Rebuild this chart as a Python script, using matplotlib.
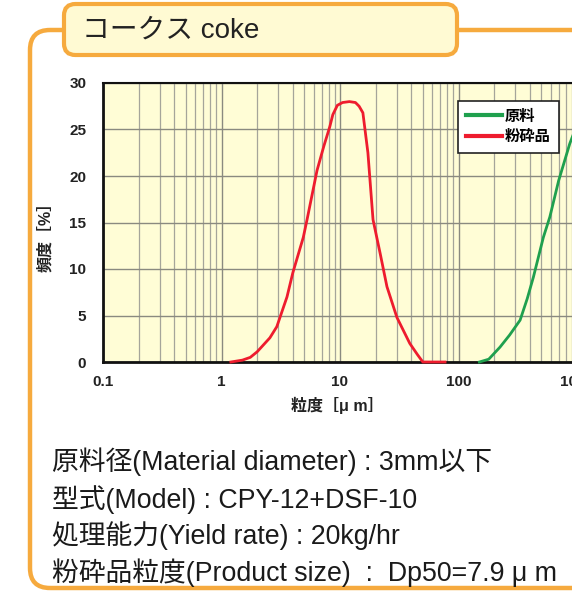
import matplotlib
matplotlib.use("Agg")
import matplotlib.pyplot as plt
from matplotlib.patches import FancyBboxPatch
from matplotlib.ticker import LogLocator, FixedLocator, NullFormatter

FAM = ['Liberation Sans', 'Noto Sans CJK JP', 'DejaVu Sans']
plt.rcParams['font.family'] = FAM

# ---- data ----
title_text = "コークス coke"
series_names = ["原料", "粉砕品"]
raw_x = [150, 180, 224, 270, 331, 380, 428, 520, 590, 700, 870, 1000]
raw_y = [0.0, 0.3, 1.6, 2.9, 4.5, 6.8, 9.1, 13.4, 15.6, 19.5, 23.5, 25.5]
prod_x = [1.2, 1.5, 1.75, 2.0, 2.56, 2.93, 3.57, 4.0, 4.9, 5.27, 6.4, 7.3, 8.2, 8.7,
          9.5, 10.5, 12.0, 13.5, 14.5, 15.6, 17.2, 19.0, 21.8, 24.9, 30.2, 38.8, 45, 50, 60, 77]
prod_y = [0.0, 0.2, 0.5, 1.1, 2.6, 3.8, 7.0, 9.6, 13.4, 15.3, 20.6, 23.2, 25.3, 26.6,
          27.6, 27.9, 28.0, 27.9, 27.5, 26.8, 22.5, 15.3, 11.7, 8.1, 4.8, 2.0, 0.8, 0.0, 0.0, 0.0]
x_ticks = [0.1, 1, 10, 100, 1000]
x_ticklabels = ["0.1", "1", "10", "100", "1000"]
y_ticks = [0, 5, 10, 15, 20, 25, 30]
x_label = "粒度\uff3b\u03bc m\uff3d"
y_label = "頻度\uff3b%\uff3d"
info_lines = [
    "原料径(Material diameter) : 3mm以下",
    "型式(Model) : CPY-12+DSF-10",
    "処理能力(Yield rate) : 20kg/hr",
    "粉砕品粒度(Product size)  :  Dp50=7.9 \u03bc m",
]

W, H = 572, 595
fig = plt.figure(figsize=(W / 100, H / 100), dpi=100)
fig.patch.set_facecolor("white")

orange = "#F6AA3E"

def fx(px):
    return px / W

def fy(py):
    return 1 - py / H

# outer rounded frame
outer = FancyBboxPatch((fx(30), fy(588)), fx(640) - fx(30), fy(30) - fy(588),
                       boxstyle="round,pad=0,rounding_size=0.035",
                       transform=fig.transFigure, fill=False, edgecolor=orange,
                       linewidth=3.2, zorder=1, clip_on=False,
                       mutation_aspect=W / H)
fig.add_artist(outer)

# title box
tb = FancyBboxPatch((fx(64), fy(55)), fx(457) - fx(64), fy(4) - fy(55),
                    boxstyle="round,pad=0,rounding_size=0.02",
                    transform=fig.transFigure, facecolor="#FFFAD3", edgecolor=orange,
                    linewidth=3.0, zorder=2, mutation_aspect=W / H)
fig.add_artist(tb)
fig.text(fx(82), fy(31), title_text, fontsize=20, ha="left",
         va="center", color="#222222", zorder=3)

# axes
left, right, top, bottom = 103, 577, 83, 362
ax = fig.add_axes([fx(left), fy(bottom), fx(right) - fx(left), fy(top) - fy(bottom)])
ax.set_facecolor("#FFFDD6")
ax.set_xscale("log")
ax.set_xlim(0.1, 1000)
ax.set_ylim(0, 30)

ax.xaxis.set_major_locator(FixedLocator(x_ticks))
ax.set_xticklabels(x_ticklabels)
ax.xaxis.set_minor_locator(LogLocator(base=10, subs=range(2, 10)))
ax.xaxis.set_minor_formatter(NullFormatter())
ax.set_yticks(y_ticks)

ax.grid(True, which="major", color="#8a8a80", linewidth=1.0)
ax.grid(True, which="minor", axis="x", color="#a5a59a", linewidth=0.9)
ax.set_axisbelow(True)

ax.tick_params(which="both", length=0)
ax.tick_params(axis="x", pad=9)
ax.tick_params(axis="y", pad=12)
for lab in ax.get_xticklabels() + ax.get_yticklabels():
    lab.set_fontweight("bold")
    lab.set_fontsize(11)
    lab.set_color("#222222")

for s in ["left", "bottom"]:
    ax.spines[s].set_linewidth(2.0)
ax.spines["top"].set_linewidth(1.5)
for s in ax.spines.values():
    s.set_color("#111111")

l1, = ax.plot(raw_x, raw_y, color="#1FA04E", linewidth=2.0, label=series_names[0],
              clip_on=False, zorder=3)
l2, = ax.plot(prod_x, prod_y, color="#EE1C2E", linewidth=2.0, label=series_names[1],
              clip_on=False, zorder=3)

leg = fig.legend(handles=[l1, l2], loc="upper left",
                 bbox_to_anchor=(fx(458), fy(101)), bbox_transform=fig.transFigure,
                 fancybox=False, framealpha=1, edgecolor="#222222",
                 prop={"size": 11, "weight": "bold"}, handlelength=2.3,
                 handletextpad=0.2, borderpad=0.55, labelspacing=0.45,
                 borderaxespad=0)
leg.get_frame().set_linewidth(1.2)
for ln in leg.get_lines():
    ln.set_linewidth(3.0)

fig.text(fx(45), fy(233), y_label, rotation=90, fontsize=11.5, fontweight="bold",
         ha="center", va="center", color="#222222")
fig.text(fx(337), fy(405), x_label, fontsize=11.5, fontweight="bold",
         ha="center", va="center", color="#222222")

ys = [462, 500, 536, 573]
for t, y in zip(info_lines, ys):
    fig.text(fx(52), fy(y), t, fontsize=19.3, ha="left", va="center", color="#1a1a1a")

fig.savefig("out.png", dpi=100)
